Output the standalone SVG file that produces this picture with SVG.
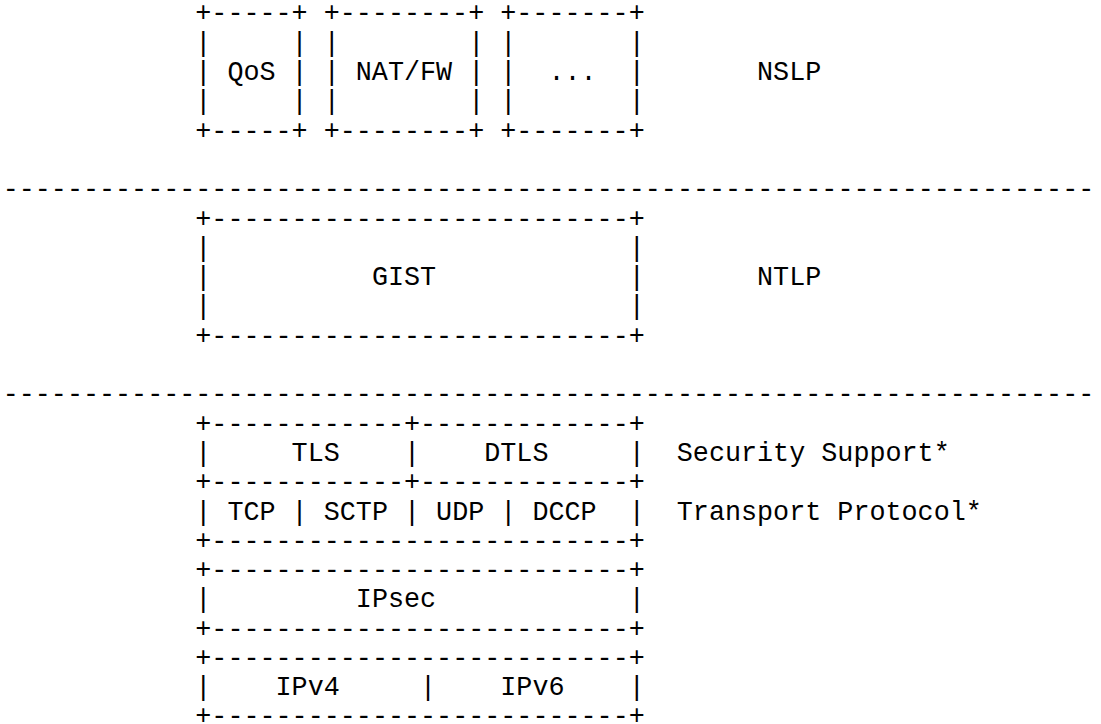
<svg xmlns="http://www.w3.org/2000/svg" width="1101" height="724" viewBox="0 0 1101 724" xml:space="preserve">
<style>
.t{font-family:"Liberation Mono","Courier New",monospace;font-size:26.75px;fill:#000;white-space:pre}
</style>
<rect width="1101" height="724" fill="#fff"/>
<g id="nslp-qos">
<text class="t" x="195.3" y="21.4">+-----+</text>
<text class="t" x="195.3" y="50.7">|     |</text>
<text class="t" x="195.3" y="80.0">| QoS |</text>
<text class="t" x="195.3" y="109.3">|     |</text>
<text class="t" x="195.3" y="138.6">+-----+</text>
</g>
<g id="nslp-natfw">
<text class="t" x="323.7" y="21.4">+--------+</text>
<text class="t" x="323.7" y="50.7">|        |</text>
<text class="t" x="323.7" y="80.0">| NAT/FW |</text>
<text class="t" x="323.7" y="109.3">|        |</text>
<text class="t" x="323.7" y="138.6">+--------+</text>
</g>
<g id="nslp-other">
<text class="t" x="500.25" y="21.4">+-------+</text>
<text class="t" x="500.25" y="50.7">|       |</text>
<text class="t" x="500.25" y="80.0">|  ...  |</text>
<text class="t" x="500.25" y="109.3">|       |</text>
<text class="t" x="500.25" y="138.6">+-------+</text>
</g>
<g id="label-nslp"><text class="t" x="757.05" y="80.0">NSLP</text></g>
<g id="connectors">
<text class="t" x="2.7" y="197.2">--------------------------------------------------------------------</text>
<text class="t" x="2.7" y="402.3">--------------------------------------------------------------------</text>
</g>
<g id="gist">
<text class="t" x="195.3" y="226.5">+--------------------------+</text>
<text class="t" x="195.3" y="255.8">|                          |</text>
<text class="t" x="195.3" y="285.1">|          GIST            |</text>
<text class="t" x="195.3" y="314.4">|                          |</text>
<text class="t" x="195.3" y="343.7">+--------------------------+</text>
</g>
<g id="label-ntlp"><text class="t" x="757.05" y="285.1">NTLP</text></g>
<g id="security">
<text class="t" x="195.3" y="431.6">+------------+-------------+</text>
<text class="t" x="195.3" y="460.9">|     TLS    |    DTLS     |</text>
<text class="t" x="195.3" y="490.2">+------------+-------------+</text>
</g>
<g id="label-security"><text class="t" x="676.8" y="460.9">Security Support*</text></g>
<g id="transport">
<text class="t" x="195.3" y="519.5">| TCP | SCTP | UDP | DCCP  |</text>
<text class="t" x="195.3" y="548.8">+--------------------------+</text>
</g>
<g id="label-transport"><text class="t" x="676.8" y="519.5">Transport Protocol*</text></g>
<g id="ipsec">
<text class="t" x="195.3" y="578.1">+--------------------------+</text>
<text class="t" x="195.3" y="607.4">|         IPsec            |</text>
<text class="t" x="195.3" y="636.7">+--------------------------+</text>
</g>
<g id="ip">
<text class="t" x="195.3" y="666.0">+--------------------------+</text>
<text class="t" x="195.3" y="695.3">|    IPv4     |    IPv6    |</text>
<text class="t" x="195.3" y="723.8">+--------------------------+</text>
</g>
</svg>
